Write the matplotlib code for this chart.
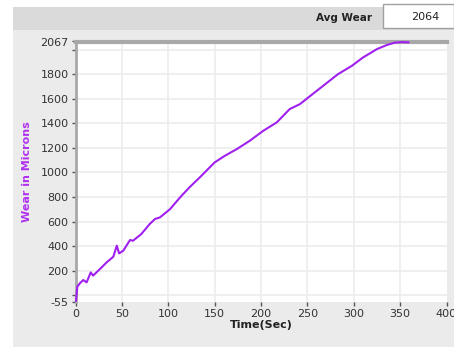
import matplotlib.pyplot as plt
from matplotlib.patches import Rectangle

# wear data
time_sec = [0.5, 2, 5, 8.4, 12, 16.4, 19, 26.4, 33.6, 40.8, 44.5, 47, 51.5, 58.8, 62, 71,
            80, 85.7, 91, 102, 112.7, 123, 134, 150, 161, 174, 188, 202.5, 217, 231,
            242, 251, 267, 283, 298, 310, 325, 335.5, 344.5, 352, 359]
wear = [-45, 70, 100, 124, 105, 186, 160, 214, 268, 314, 404, 341, 363, 450, 444, 499,
        580, 621, 634, 702, 797, 880, 960, 1082, 1136, 1191, 1259, 1340, 1408, 1517,
        1557, 1611, 1706, 1801, 1869, 1937, 2005, 2038, 2058, 2062, 2060]

ytick_vals = [-55, 200, 400, 600, 800, 1000, 1200, 1400, 1600, 1800, 2067]
xtick_vals = [0, 50, 100, 150, 200, 250, 300, 350, 400]
avg_wear = "2064"

fig = plt.figure(figsize=(4.54, 3.47), dpi=100)
fig.patch.set_facecolor('white')

# panel backgrounds (behind the axes)
fig.patches.append(Rectangle((13/454, 0), 1, 1 - 7/347, transform=fig.transFigure,
                             facecolor='#ebebeb', edgecolor='none', zorder=-10))
fig.patches.append(Rectangle((13/454, 1 - 30/347), 1, 23/347, transform=fig.transFigure,
                             facecolor='#dadada', edgecolor='none', zorder=-9))
fig.patches.append(Rectangle((383/454, 1 - 28/347), 71/454, 24/347, transform=fig.transFigure,
                             facecolor='white', edgecolor='#a0a0a0', linewidth=1, zorder=-8))
fig.text(372/454, 1 - 18/347, "Avg Wear", fontsize=7.5, fontweight='bold',
         ha='right', va='center', color='#222222')
fig.text(425/454, 1 - 17/347, avg_wear, fontsize=8, ha='center', va='center', color='#222222')

ax = fig.add_axes([75.5/454, 1 - 302/347, 371/454, 260.5/347])
ax.set_facecolor('white')
ax.plot(time_sec, wear, color='#a020f0', linewidth=1.5, zorder=3, clip_on=False)

ax.set_xlim(0, 400)
ax.set_ylim(-55, 2067)
ax.set_xticks(xtick_vals)
ax.set_yticks(ytick_vals)
ax.set_yticks([0, 2000], minor=True)
ax.set_xticklabels([str(v) for v in xtick_vals], fontsize=8, color='#333333')
ax.set_yticklabels([str(v) for v in ytick_vals], fontsize=8, color='#333333')
ax.tick_params(axis='both', which='both', length=3, width=1, color='#555555', pad=2)

# grid every 50 sec and every 200 microns
for xv in xtick_vals[1:-1]:
    ax.axvline(xv, color='#ececec', linewidth=1.2, zorder=0)
for yv in range(0, 2001, 200):
    ax.axhline(yv, color='#ececec', linewidth=1.2, zorder=0)

ax.spines['top'].set_color('#a8a8a8')
ax.spines['top'].set_linewidth(3)
ax.spines['left'].set_color('#a8a8a8')
ax.spines['left'].set_linewidth(2)
ax.spines['right'].set_visible(False)
ax.spines['bottom'].set_visible(False)

ax.set_xlabel("Time(Sec)", fontsize=8, fontweight='bold', color='#222222', labelpad=1)
ax.set_ylabel("Wear in Microns", fontsize=8, fontweight='bold', color='#b030f0', labelpad=6)

fig.savefig("out.png", dpi=100)
